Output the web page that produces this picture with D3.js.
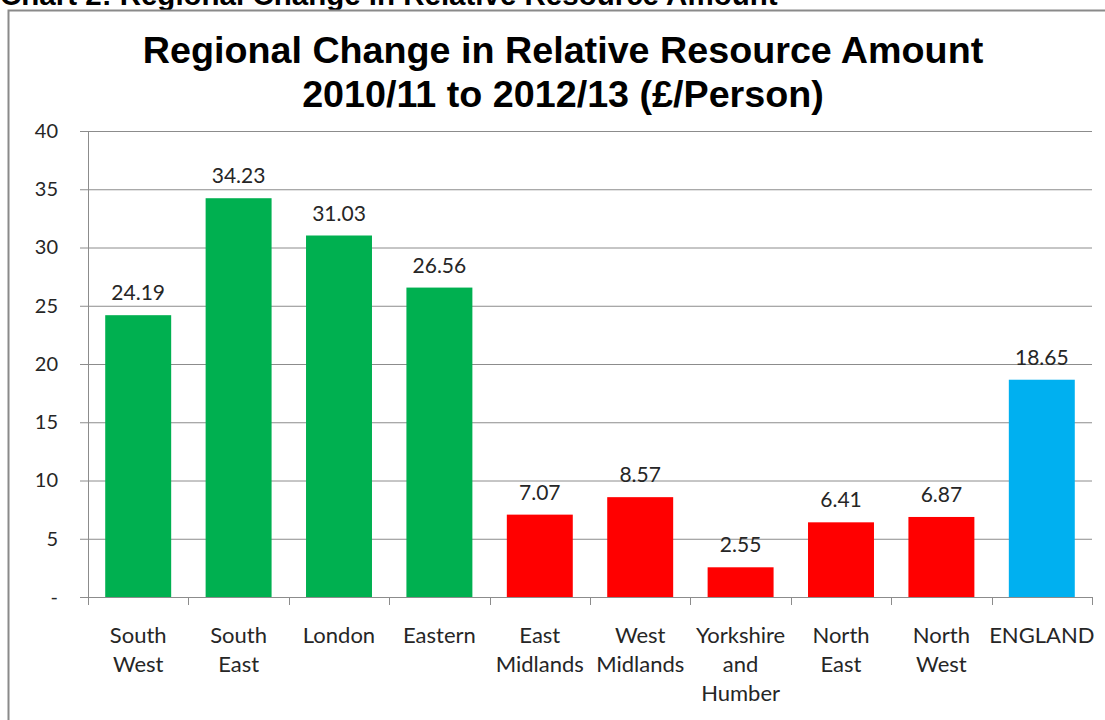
<!DOCTYPE html>
<html>
<head>
<meta charset="utf-8">
<script src="https://cdn.jsdelivr.net/npm/d3@7"></script>
<style>
  html, body { margin: 0; padding: 0; background: #fff; }
  svg { display: block; }
</style>
</head>
<body>
<svg id="chart" width="1105" height="720"></svg>
<script>
// Regions in display order, with the change in relative resource amount (£/person)
const categories = ["South West", "South East", "London", "Eastern", "East Midlands",
  "West Midlands", "Yorkshire and Humber", "North East", "North West", "ENGLAND"];
const labelLines = [["South", "West"], ["South", "East"], ["London"], ["Eastern"],
  ["East", "Midlands"], ["West", "Midlands"], ["Yorkshire", "and", "Humber"],
  ["North", "East"], ["North", "West"], ["ENGLAND"]];
const values = [24.19, 34.23, 31.03, 26.56, 7.07, 8.57, 2.55, 6.41, 6.87, 18.65];
const groups = ["gain", "gain", "gain", "gain", "low", "low", "low", "low", "low", "total"];
const yTicks = [0, 5, 10, 15, 20, 25, 30, 35, 40];

const colour = { gain: "#00B050", low: "#FF0000", total: "#00B0F0" };
const gridColour = "#8c8c8c";
const textColour = "#262626";
const labelFont = "Lato, 'Open Sans', sans-serif";

const svg = d3.select("#chart");

// Page heading above the chart frame
svg.append("text")
  .attr("x", 0).attr("y", 5)
  .attr("font-family", "'Liberation Sans', Arial, sans-serif")
  .attr("font-weight", "bold").attr("font-size", 29.5)
  .attr("fill", "#000")
  .text("Chart 2: Regional Change in Relative Resource Amount");

// Chart frame
svg.append("path")
  .attr("d", "M8.5,730 V10.5 H1110")
  .attr("fill", "none").attr("stroke", "#8a8a8a").attr("stroke-width", 2);

// Chart title
const title = svg.append("text")
  .attr("text-anchor", "middle")
  .attr("font-family", "'Liberation Sans', Arial, sans-serif")
  .attr("font-weight", "bold").attr("font-size", 37.7)
  .attr("fill", "#000");
title.append("tspan").attr("x", 563).attr("y", 63)
  .text("Regional Change in Relative Resource Amount");
title.append("tspan").attr("x", 563).attr("y", 107)
  .text("2010/11 to 2012/13 (£/Person)");

const plot = { left: 88, right: 1092, top: 131, bottom: 597 };

const x = d3.scaleBand()
  .domain(categories)
  .range([plot.left, plot.right])
  .paddingInner(0.343)
  .paddingOuter(0.1715);

const y = d3.scaleLinear()
  .domain([0, 40])
  .range([plot.bottom, plot.top]);

// Horizontal gridlines with y-axis labels
const yAxis = d3.axisLeft(y)
  .tickValues(yTicks)
  .tickSize(-(plot.right - plot.left))
  .tickPadding(30)
  .tickFormat(d => d === 0 ? "-" : d);

const gy = svg.append("g")
  .attr("transform", `translate(${plot.left},0)`)
  .call(yAxis);
gy.select(".domain").remove();
gy.selectAll(".tick line")
  .attr("stroke", gridColour)
  .attr("x1", -8);
gy.selectAll(".tick text")
  .attr("font-family", labelFont)
  .attr("font-size", 20)
  .attr("fill", textColour);

// Vertical value axis line
svg.append("line")
  .attr("x1", plot.left + 0.5).attr("x2", plot.left + 0.5)
  .attr("y1", plot.top).attr("y2", plot.bottom)
  .attr("stroke", gridColour);

// Bars
svg.append("g").selectAll("rect")
  .data(categories)
  .join("rect")
  .attr("x", d => x(d))
  .attr("width", x.bandwidth())
  .attr("y", (d, i) => y(values[i]))
  .attr("height", (d, i) => y(0) - y(values[i]))
  .attr("fill", (d, i) => colour[groups[i]]);

// Value labels
svg.append("g").selectAll("text")
  .data(categories)
  .join("text")
  .attr("x", d => x(d) + x.bandwidth() / 2)
  .attr("y", (d, i) => y(values[i]) - 15)
  .attr("text-anchor", "middle")
  .attr("font-family", labelFont)
  .attr("font-size", 21)
  .attr("fill", textColour)
  .text((d, i) => values[i].toFixed(2));

// Category axis with ticks between categories
const gx = svg.append("g");
gx.append("line")
  .attr("x1", plot.left).attr("x2", plot.right)
  .attr("y1", plot.bottom + 0.5).attr("y2", plot.bottom + 0.5)
  .attr("stroke", gridColour);
const boundaries = categories.map(c => x(c) - x.step() * x.paddingInner() / 2)
  .concat([plot.right]);
gx.selectAll("line.tick")
  .data(boundaries)
  .join("line")
  .attr("class", "tick")
  .attr("x1", d => Math.round(d) + 0.5).attr("x2", d => Math.round(d) + 0.5)
  .attr("y1", plot.bottom).attr("y2", plot.bottom + 8)
  .attr("stroke", gridColour);

const cat = gx.selectAll("text.cat")
  .data(categories)
  .join("text")
  .attr("class", "cat")
  .attr("text-anchor", "middle")
  .attr("font-family", labelFont)
  .attr("font-size", 22)
  .attr("fill", textColour);
cat.each(function (d, i) {
  const t = d3.select(this);
  labelLines[i].forEach((line, k) => {
    t.append("tspan")
      .attr("x", x(d) + x.bandwidth() / 2)
      .attr("y", 643 + k * 29)
      .text(line);
  });
});
</script>
</body>
</html>
